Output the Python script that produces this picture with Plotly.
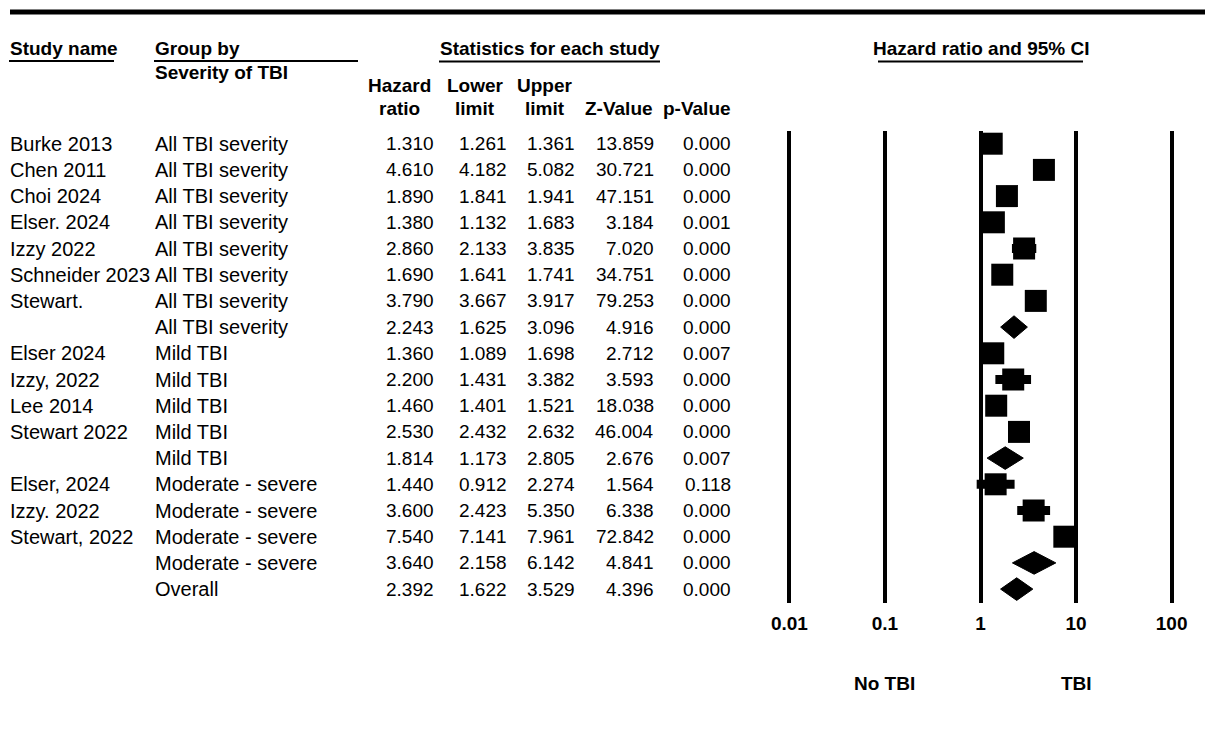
import plotly.graph_objects as go
import math

# ---------------- data ----------------
study = ["Burke 2013", "Chen 2011", "Choi 2024", "Elser. 2024", "Izzy 2022",
         "Schneider 2023", "Stewart.", "", "Elser 2024", "Izzy, 2022", "Lee 2014",
         "Stewart 2022", "", "Elser, 2024", "Izzy. 2022", "Stewart, 2022", "", ""]
group = (["All TBI severity"] * 8 + ["Mild TBI"] * 5 +
         ["Moderate - severe"] * 4 + ["Overall"])
hazard_ratio = [1.310, 4.610, 1.890, 1.380, 2.860, 1.690, 3.790, 2.243, 1.360,
                2.200, 1.460, 2.530, 1.814, 1.440, 3.600, 7.540, 3.640, 2.392]
lower_limit = [1.261, 4.182, 1.841, 1.132, 2.133, 1.641, 3.667, 1.625, 1.089,
               1.431, 1.401, 2.432, 1.173, 0.912, 2.423, 7.141, 2.158, 1.622]
upper_limit = [1.361, 5.082, 1.941, 1.683, 3.835, 1.741, 3.917, 3.096, 1.698,
               3.382, 1.521, 2.632, 2.805, 2.274, 5.350, 7.961, 6.142, 3.529]
z_value = [13.859, 30.721, 47.151, 3.184, 7.020, 34.751, 79.253, 4.916, 2.712,
           3.593, 18.038, 46.004, 2.676, 1.564, 6.338, 72.842, 4.841, 4.396]
p_value = [0.000, 0.000, 0.000, 0.001, 0.000, 0.000, 0.000, 0.000, 0.007,
           0.000, 0.000, 0.000, 0.007, 0.118, 0.000, 0.000, 0.000, 0.000]
is_summary = [False] * 7 + [True] + [False] * 4 + [True] + [False] * 3 + [True, True]
tick_values = [0.01, 0.1, 1, 10, 100]
tick_labels = ["0.01", "0.1", "1", "10", "100"]

# ---------------- geometry helpers ----------------
W, H = 1197, 733
OFF = 8
FONT = "Liberation Sans, Arial, sans-serif"


def px(x):
    return (x - OFF) / W


def py(y):
    return 1 - (y - OFF) / H


ROW0, ROWH = 143.7, 26.2


def row_of(y):
    return (y - ROW0) / ROWH


X1, DEC = 980.5, 95.55


def logpos(x):
    return (x - X1) / DEC


rows = list(range(len(study)))
fig = go.Figure()

# CI lines (individual studies)
for i in rows:
    if not is_summary[i]:
        fig.add_trace(go.Scatter(x=[lower_limit[i], upper_limit[i]], y=[i, i],
                                 mode="lines", line=dict(color="black", width=9),
                                 hoverinfo="skip", showlegend=False))

# squares
idx = [i for i in rows if not is_summary[i]]
fig.add_trace(go.Scatter(x=[hazard_ratio[i] for i in idx], y=idx, mode="markers",
                         marker=dict(symbol="square", size=22, color="black",
                                     line=dict(width=0)),
                         showlegend=False))

# diamonds (summaries)
hh = 11.3 / ROWH
for i in rows:
    if is_summary[i]:
        fig.add_trace(go.Scatter(
            x=[lower_limit[i], hazard_ratio[i], upper_limit[i], hazard_ratio[i], lower_limit[i]],
            y=[i, i - hh, i, i + hh, i], mode="lines", fill="toself",
            fillcolor="black", line=dict(color="black", width=1),
            hoverinfo="skip", showlegend=False))

ann = []


def text(x, y, s, anchor="left", bold=False, xref="paper", yref="paper", size=19):
    ann.append(dict(x=x, y=y, xref=xref, yref=yref, text=s, showarrow=False,
                    xanchor=anchor, yanchor="middle", borderpad=0, borderwidth=0,
                    font=dict(family=FONT, size=size, color="black",
                              weight="bold" if bold else "normal")))


# header
text(px(10), py(49), "Study name", bold=True)
text(px(155), py(49), "Group by", bold=True)
text(px(155), py(72), "Severity of TBI", bold=True)
text(px(549.5), py(48), "Statistics for each study", anchor="center", bold=True)
text(px(980.5), py(49), "Hazard ratio and 95% CI", anchor="center", bold=True)

col_right = [434, 507, 575, 654, 731]
head1 = ["Hazard", "Lower", "Upper", "", ""]
head2 = ["ratio", "limit", "limit", "Z-Value", "p-Value"]
head_center = [399, 475, 545, 619, 697]
for c in range(5):
    if head1[c]:
        text(px(head_center[c]), py(85), head1[c], anchor="center", bold=True)
    text(px(head_center[c]), py(108), head2[c], anchor="center", bold=True)

# table rows
cols = [hazard_ratio, lower_limit, upper_limit, z_value, p_value]
for i in rows:
    if study[i]:
        text(px(10), i, study[i], yref="y", size=20)
    text(px(155), i, group[i], yref="y", size=20)
    for c in range(5):
        text(px(col_right[c]), i, f"{cols[c][i]:.3f}", anchor="right", yref="y")

# bottom labels
text(math.log10(0.1), py(683), "No TBI", anchor="center", bold=True, xref="x")
text(math.log10(10), py(683), "TBI", anchor="center", bold=True, xref="x")

shapes = [
    dict(type="line", xref="paper", yref="paper", x0=px(10), x1=px(1230),
         y0=py(12), y1=py(12), line=dict(color="black", width=5)),
    dict(type="line", xref="paper", yref="paper", x0=px(9), x1=px(114),
         y0=py(61), y1=py(61), line=dict(color="black", width=2)),
    dict(type="line", xref="paper", yref="paper", x0=px(154), x1=px(358),
         y0=py(61), y1=py(61), line=dict(color="black", width=2)),
    dict(type="line", xref="paper", yref="paper", x0=px(439), x1=px(660),
         y0=py(61.5), y1=py(61.5), line=dict(color="black", width=2)),
    dict(type="line", xref="paper", yref="paper", x0=px(878), x1=px(1083),
         y0=py(61.5), y1=py(61.5), line=dict(color="black", width=2)),
]

fig.update_layout(
    width=W, height=H, margin=dict(l=0, r=0, t=0, b=0),
    paper_bgcolor="white", plot_bgcolor="white", showlegend=False,
    font=dict(family=FONT, size=19, color="black"),
    annotations=ann, shapes=shapes,
    xaxis=dict(type="log", domain=[px(760), 1], range=[logpos(760), logpos(1205)],
               tickvals=tick_values, ticktext=tick_labels, showgrid=True,
               gridcolor="black", gridwidth=4, zeroline=False, showline=False,
               ticks="outside", ticklen=3, tickcolor="rgba(0,0,0,0)",
               tickfont=dict(family=FONT, size=19, color="black", weight="bold"),
               fixedrange=True),
    yaxis=dict(domain=[py(603), py(131)], range=[row_of(603), row_of(131)],
               showgrid=False, zeroline=False, showticklabels=False,
               showline=False, fixedrange=True),
)

fig.write_html("out.html")
